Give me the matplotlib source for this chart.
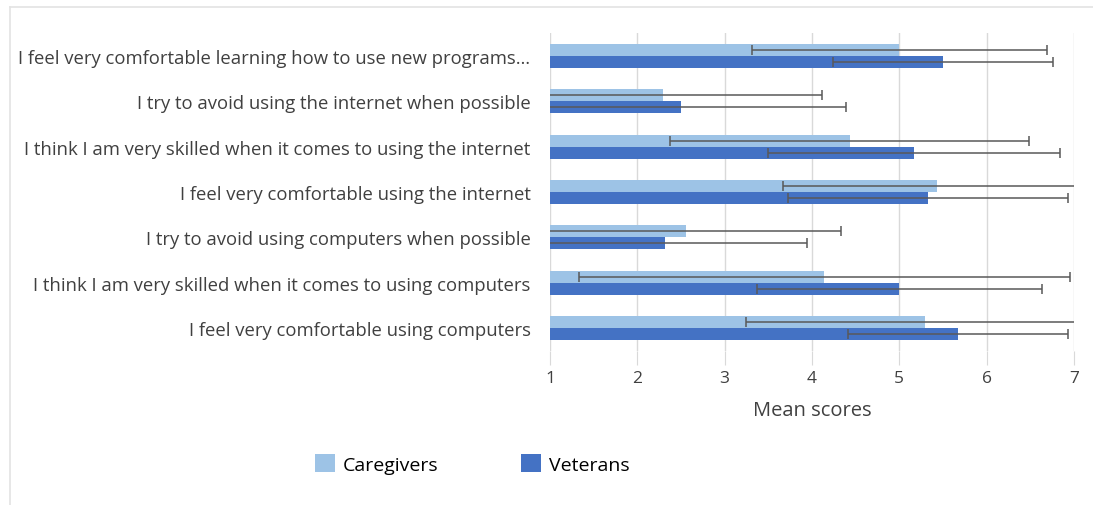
import matplotlib
matplotlib.use("Agg")
import matplotlib.pyplot as plt
from matplotlib.patches import Patch
from matplotlib.lines import Line2D
import numpy as np

categorias = [
    "I feel very comfortable learning how to use new programs…",
    "I try to avoid using the internet when possible",
    "I think I am very skilled when it comes to using the internet",
    "I feel very comfortable using the internet",
    "I try to avoid using computers when possible",
    "I think I am very skilled when it comes to using computers",
    "I feel very comfortable using computers",
]
caregivers = [5.00, 2.29, 4.43, 5.43, 2.56, 4.14, 5.29]
caregivers_sd = [1.69, 1.83, 2.06, 1.76, 1.77, 2.81, 2.05]
veterans = [5.50, 2.50, 5.17, 5.33, 2.32, 5.00, 5.67]
veterans_sd = [1.26, 1.89, 1.67, 1.60, 1.62, 1.63, 1.26]
xticks = [1, 2, 3, 4, 5, 6, 7]

COR_CARE = "#9DC3E6"
COR_VET = "#4472C4"
COR_ERRO = "#595959"
COR_TEXTO = "#404040"
FONTE = "Open Sans"

fig = plt.figure(figsize=(10.93, 5.06), dpi=100)
ax = fig.add_axes([0.5032, 0.3043, 0.4794, 0.6285])

y = np.arange(len(categorias))
h = 0.265
# base em 1 (eixo começa em 1)
ax.barh(y - h / 2, np.array(caregivers) - 1, left=1, height=h, color=COR_CARE, zorder=2)
ax.barh(y + h / 2, np.array(veterans) - 1, left=1, height=h, color=COR_VET, zorder=2)
ax.errorbar(caregivers, y - h / 2, xerr=caregivers_sd, fmt="none", ecolor=COR_ERRO,
            elinewidth=1.1, capsize=3.5, capthick=1.1, zorder=3)
ax.errorbar(veterans, y + h / 2, xerr=veterans_sd, fmt="none", ecolor=COR_ERRO,
            elinewidth=1.1, capsize=3.5, capthick=1.1, zorder=3)

ax.set_xlim(1, 7)
ax.set_ylim(len(categorias) - 0.5, -0.5)
ax.set_xticks(xticks)
ax.set_yticks(y)
ax.set_yticklabels(categorias, fontsize=13.3, color=COR_TEXTO, family=FONTE)
for t in ax.get_xticklabels():
    t.set_fontsize(12.5)
    t.set_color(COR_TEXTO)
    t.set_family(FONTE)
ax.tick_params(axis="y", length=0, pad=14)
ax.tick_params(axis="x", length=10, color="#D9D9D9", pad=4, direction="out")
ax.grid(axis="x", color="#D9D9D9", linewidth=1, zorder=0)
for lado in ax.spines.values():
    lado.set_visible(False)
ax.set_xlabel("Mean scores", fontsize=14.5, color=COR_TEXTO, family=FONTE, labelpad=10)

legenda = [Patch(facecolor=COR_CARE, label="Caregivers"),
           Patch(facecolor=COR_VET, label="Veterans")]
fig.legend(handles=legenda, loc="center", bbox_to_anchor=(0.432, 0.081), ncol=2,
           frameon=False, columnspacing=4.2, handlelength=1.05, handleheight=1.05,
           handletextpad=0.4, prop={"family": FONTE, "size": 14})

# moldura (só topo e esquerda)
fig.add_artist(Line2D([10 / 1093, 1], [1 - 8 / 506, 1 - 8 / 506], color="#E3E3E3", linewidth=1.2))
fig.add_artist(Line2D([10 / 1093, 10 / 1093], [0, 1 - 8 / 506], color="#E3E3E3", linewidth=1.2))

fig.savefig("out.png", dpi=100, facecolor="white")
